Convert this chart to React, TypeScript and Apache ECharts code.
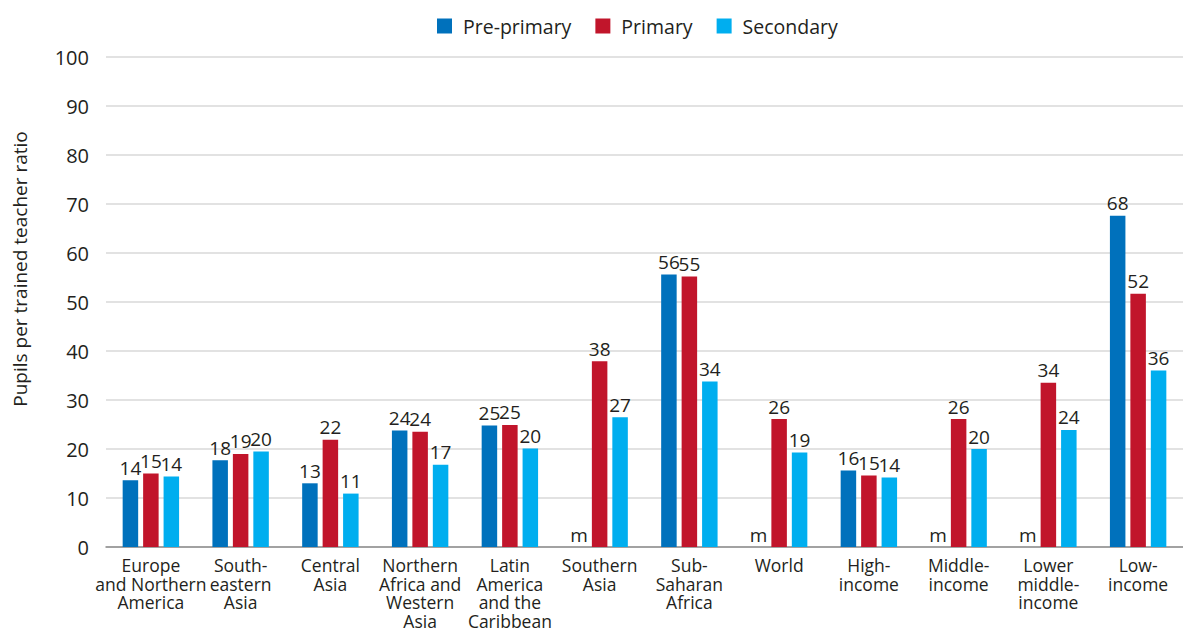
import React, { useEffect, useRef } from "react";
import * as echarts from "echarts";

const categories = [
  "Europe\nand Northern\nAmerica",
  "South-\neastern\nAsia",
  "Central\nAsia",
  "Northern\nAfrica and\nWestern\nAsia",
  "Latin\nAmerica\nand the\nCaribbean",
  "Southern\nAsia",
  "Sub-\nSaharan\nAfrica",
  "World",
  "High-\nincome",
  "Middle-\nincome",
  "Lower\nmiddle-\nincome",
  "Low-\nincome",
];

const prePrimary: (number | null)[] = [13.6, 17.7, 13.0, 23.8, 24.8, null, 55.6, null, 15.6, null, null, 67.6];
const primary: number[] = [15.0, 19.0, 21.9, 23.5, 24.9, 37.9, 55.2, 26.1, 14.6, 26.1, 33.5, 51.7];
const secondary: number[] = [14.4, 19.5, 10.9, 16.8, 20.1, 26.5, 33.8, 19.3, 14.2, 20.0, 23.9, 36.0];

const yTicks = { min: 0, max: 100, interval: 10 };
const yAxisTitle = "Pupils per trained teacher ratio";

const FONT = "'Open Sans', sans-serif";
const TXT = "#231f20";

export default function App() {
  const ref = useRef<HTMLDivElement>(null);
  useEffect(() => {
    if (!ref.current) return;
    const chart = echarts.init(ref.current, null, { renderer: "svg" });
    const labelCfg = (src: (number | null)[]) => ({
      show: true,
      position: "top",
      distance: 3,
      fontFamily: FONT,
      fontSize: 19,
      color: TXT,
      formatter: (p: any) => (src[p.dataIndex] === null ? "m" : String(Math.round(p.value))),
    });
    const mk = (name: string, src: (number | null)[], color: string) => ({
      name,
      type: "bar",
      barWidth: 15.5,
      barGap: "32%",
      itemStyle: { color },
      label: labelCfg(src),
      data: src.map((v) => (v === null ? 0 : v)),
    });
    chart.setOption({
      animation: false,
      textStyle: { fontFamily: FONT },
      legend: {
        top: 11,
        left: 432,
        itemWidth: 15,
        itemHeight: 15,
        itemGap: 24,
        icon: "rect",
        textStyle: { fontFamily: FONT, fontSize: 19.5, color: TXT, padding: [0, 0, 0, 6] },
        data: ["Pre-primary", "Primary", "Secondary"],
      },
      graphic: [
        {
          type: "text",
          x: 20,
          y: 269,
          rotation: Math.PI / 2,
          style: {
            text: yAxisTitle,
            fontFamily: FONT,
            fontSize: 19,
            fill: TXT,
            align: "center",
            verticalAlign: "middle",
          },
        },
      ],
      grid: { left: 106, top: 57, width: 1087, bottom: 79, containLabel: false },
      xAxis: {
        type: "category",
        data: categories,
        axisLine: { lineStyle: { color: "#8c8c8c", width: 1.5 } },
        axisTick: { show: false },
        axisLabel: {
          interval: 0,
          fontFamily: FONT,
          fontSize: 17.5,
          lineHeight: 18.5,
          color: TXT,
          margin: 9,
        },
      },
      yAxis: {
        type: "value",
        min: yTicks.min,
        max: yTicks.max,
        interval: yTicks.interval,
        axisLine: { show: false },
        axisTick: { show: false },
        axisLabel: { fontFamily: FONT, fontSize: 20, color: TXT, margin: 17 },
        splitLine: { lineStyle: { color: "#d9d9d9", width: 1.5 } },
      },
      series: [
        mk("Pre-primary", prePrimary, "#0071bc"),
        mk("Primary", primary, "#c1152b"),
        mk("Secondary", secondary, "#00aeef"),
      ],
    });
    return () => chart.dispose();
  }, []);
  return (
    <div
      ref={ref}
      style={{ position: "fixed", left: 0, top: 0, width: 1183, height: 630, background: "#fff" }}
    />
  );
}
